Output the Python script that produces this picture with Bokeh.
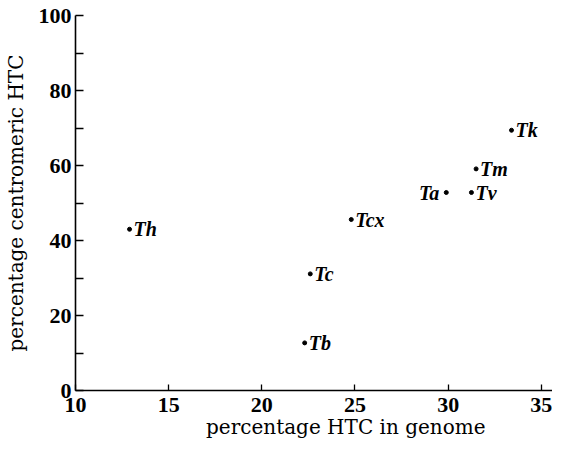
from bokeh.plotting import figure
from bokeh.models import Range1d, ColumnDataSource, FixedTicker
from bokeh.core.properties import value
from bokeh.embed import file_html
from bokeh.resources import INLINE

# data
species = ["Th", "Tb", "Tc", "Tcx", "Ta", "Tv", "Tm", "Tk"]
genome_htc = [12.9, 22.3, 22.6, 24.8, 29.9, 31.25, 31.5, 33.4]
centromeric_htc = [43.0, 12.7, 31.1, 45.6, 52.8, 52.8, 59.1, 69.4]
left_labelled = ["Ta"]
x_ticks = [10, 15, 20, 25, 30, 35]
y_ticks = [0, 20, 40, 60, 80, 100]
y_minor = [10, 30, 50, 70, 90]
x_title = "percentage HTC in genome"
y_title = "percentage centromeric HTC"

p = figure(width=552, height=441, output_backend="svg", toolbar_location=None,
           x_range=Range1d(10, 35.6), y_range=Range1d(0, 100),
           min_border_left=67, min_border_right=0, min_border_top=15, min_border_bottom=48)
p.outline_line_color = None
p.xgrid.visible = False
p.ygrid.visible = False
p.background_fill_color = "white"
p.border_fill_color = "white"

p.xaxis.ticker = FixedTicker(ticks=x_ticks)
p.yaxis.ticker = FixedTicker(ticks=y_ticks, minor_ticks=y_minor)

for ax in (p.xaxis, p.yaxis):
    ax.axis_line_color = "black"
    ax.axis_line_width = 1.6
    ax.major_tick_line_color = "black"
    ax.major_tick_line_width = 1.3
    ax.minor_tick_line_color = "black"
    ax.minor_tick_line_width = 1.3
    ax.major_tick_out = 0
    ax.minor_tick_out = 0
    ax.major_label_text_font = "Liberation Serif"
    ax.major_label_text_font_style = "bold"
    ax.major_label_text_font_size = "22px"
    ax.major_label_text_color = "black"
    ax.axis_label_text_font = "DejaVu Serif"
    ax.axis_label_text_font_style = "normal"
    ax.axis_label_text_font_size = "20px"
    ax.axis_label_text_color = "black"

p.xaxis.major_tick_in = 6
p.xaxis.minor_tick_in = 0
p.yaxis.major_tick_in = 8
p.yaxis.minor_tick_in = 8
p.xaxis.major_label_standoff = 7
p.yaxis.major_label_standoff = 4
# the reference's x title sits right of the frame centre: pad its left with no-break spaces
p.xaxis.axis_label = "\u00a0" * 10 + x_title
p.xaxis.axis_label_standoff = 0
p.yaxis.axis_label = y_title
p.yaxis.axis_label_standoff = 8

src = ColumnDataSource(dict(x=genome_htc, y=centromeric_htc, name=species))
p.scatter("x", "y", source=src, size=4, color="black")

right_idx = [i for i, s in enumerate(species) if s not in left_labelled]
left_idx = [i for i, s in enumerate(species) if s in left_labelled]
src_r = ColumnDataSource(dict(x=[genome_htc[i] for i in right_idx],
                              y=[centromeric_htc[i] for i in right_idx],
                              name=[species[i] for i in right_idx]))
src_l = ColumnDataSource(dict(x=[genome_htc[i] for i in left_idx],
                              y=[centromeric_htc[i] for i in left_idx],
                              name=[species[i] for i in left_idx]))
common = dict(text_font=value("Liberation Serif"), text_font_style="bold italic",
              text_font_size="20px", text_color="black", text_baseline="middle")
p.text("x", "y", text="name", source=src_r, x_offset=4, text_align="left", **common)
p.text("x", "y", text="name", source=src_l, x_offset=-7, text_align="right", **common)

open("out.html", "w").write(file_html(p, INLINE))
